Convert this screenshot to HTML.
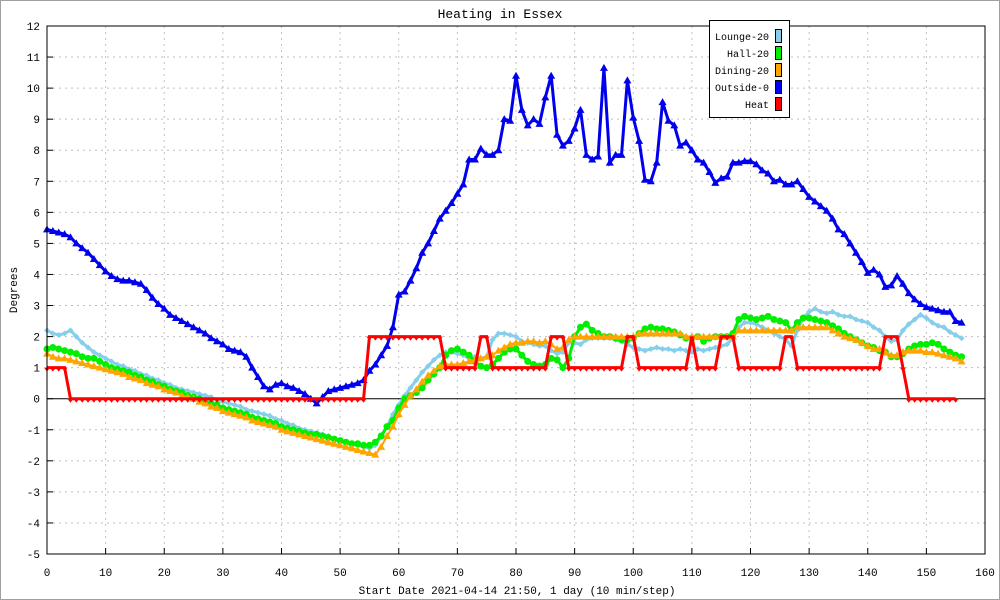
<!DOCTYPE html>
<html><head><meta charset="utf-8"><style>
body{margin:0;background:#fff}
svg{display:block;font-family:"Liberation Mono",monospace;font-size:11px}
</style></head><body>
<svg id="c" width="1000" height="600">
<rect x="0.5" y="0.5" width="999" height="599" fill="#fff" stroke="#a0a0a0"/>
<text x="500" y="18" text-anchor="middle" font-size="13">Heating in Essex</text>
<text x="517" y="594" text-anchor="middle">Start Date 2021-04-14 21:50, 1 day (10 min/step)</text>
<text transform="translate(17,290) rotate(-90)" text-anchor="middle">Degrees</text>
<g id="grid"></g><g id="series"></g>
<rect x="47" y="26" width="938" height="528" fill="none" stroke="#000"/>
<g>
<rect x="709.5" y="20.5" width="80" height="97" fill="#fff" stroke="#000"/>
<g id="legend" font-size="10"></g></g>
</svg>
<script>
const xTicks=[0,10,20,30,40,50,60,70,80,90,100,110,120,130,140,150,160];
const yTicks=[-5,-4,-3,-2,-1,0,1,2,3,4,5,6,7,8,9,10,11,12];
const seriesNames=["Lounge-20","Hall-20","Dining-20","Outside-0","Heat"];
const lounge=[2.2,2.1,2.05,2.1,2.2,2.0,1.8,1.65,1.5,1.4,1.3,1.2,1.1,1.05,0.95,0.9,0.8,0.75,0.65,0.6,0.5,0.45,0.35,0.3,0.25,0.2,0.15,0.1,0.05,-0.05,-0.1,-0.15,-0.2,-0.25,-0.35,-0.4,-0.45,-0.5,-0.55,-0.65,-0.7,-0.8,-0.85,-0.95,-1.0,-1.05,-1.1,-1.15,-1.2,-1.3,-1.35,-1.4,-1.45,-1.5,-1.55,-1.6,-1.5,-1.2,-0.9,-0.5,-0.2,0.1,0.35,0.6,0.85,1.05,1.25,1.4,1.5,1.5,1.45,1.4,1.3,1.35,1.3,1.35,1.9,2.1,2.1,2.05,2.0,1.85,1.8,1.75,1.7,1.7,1.55,1.45,1.5,1.8,1.8,1.75,1.9,1.95,1.95,1.95,1.95,1.9,1.85,1.75,1.65,1.6,1.55,1.6,1.65,1.6,1.6,1.55,1.6,1.55,1.5,1.6,1.55,1.6,1.65,1.7,1.75,1.95,2.3,2.45,2.45,2.4,2.3,2.2,2.1,2.0,1.9,1.7,2.2,2.6,2.8,2.9,2.8,2.75,2.8,2.7,2.65,2.65,2.55,2.5,2.45,2.3,2.2,2.0,1.85,1.9,2.2,2.4,2.55,2.7,2.6,2.45,2.35,2.3,2.15,2.05,1.95];
const hall=[1.6,1.65,1.6,1.55,1.5,1.45,1.35,1.3,1.3,1.2,1.1,1.0,0.95,0.9,0.85,0.75,0.7,0.6,0.55,0.45,0.4,0.3,0.25,0.2,0.1,0.05,0.0,-0.1,-0.15,-0.2,-0.3,-0.35,-0.4,-0.45,-0.5,-0.6,-0.65,-0.7,-0.75,-0.8,-0.9,-0.95,-1.0,-1.05,-1.1,-1.15,-1.15,-1.2,-1.25,-1.3,-1.35,-1.4,-1.45,-1.45,-1.5,-1.5,-1.4,-1.2,-0.9,-0.7,-0.3,0.0,0.1,0.2,0.35,0.6,0.8,1.0,1.4,1.55,1.6,1.5,1.4,1.2,1.05,1.0,1.1,1.3,1.5,1.6,1.6,1.4,1.2,1.1,1.05,1.1,1.3,1.25,1.0,1.3,2.0,2.3,2.4,2.2,2.1,2.0,2.0,1.95,1.9,1.9,1.95,2.1,2.25,2.3,2.25,2.25,2.2,2.15,2.05,1.95,1.95,2.0,1.85,1.95,2.0,2.0,2.0,2.1,2.55,2.65,2.6,2.55,2.6,2.65,2.55,2.5,2.45,2.2,2.45,2.6,2.6,2.55,2.5,2.45,2.35,2.25,2.1,2.0,1.9,1.8,1.7,1.65,1.55,1.5,1.35,1.35,1.45,1.6,1.7,1.75,1.75,1.8,1.75,1.6,1.5,1.4,1.35];
const dining=[1.45,1.35,1.3,1.3,1.25,1.2,1.15,1.1,1.05,1.0,0.95,0.9,0.85,0.8,0.7,0.65,0.6,0.5,0.45,0.4,0.3,0.25,0.2,0.1,0.05,0.0,-0.1,-0.15,-0.25,-0.3,-0.4,-0.45,-0.5,-0.55,-0.6,-0.7,-0.75,-0.8,-0.85,-0.9,-1.0,-1.05,-1.1,-1.15,-1.2,-1.25,-1.3,-1.35,-1.4,-1.45,-1.5,-1.55,-1.6,-1.65,-1.7,-1.75,-1.8,-1.55,-1.2,-0.9,-0.5,-0.2,0.1,0.3,0.55,0.75,0.9,1.05,1.1,1.1,1.1,1.15,1.2,1.25,1.3,1.35,1.4,1.55,1.65,1.75,1.8,1.8,1.85,1.85,1.8,1.85,1.75,1.6,1.65,1.9,2.0,2.0,2.0,2.0,2.0,2.0,2.0,2.0,2.0,2.0,2.0,2.1,2.1,2.1,2.1,2.1,2.1,2.1,2.1,2.0,2.0,2.0,2.0,2.0,2.0,2.0,2.0,2.0,2.2,2.2,2.2,2.2,2.2,2.2,2.2,2.2,2.2,2.2,2.3,2.3,2.3,2.3,2.3,2.3,2.2,2.1,2.0,1.95,1.9,1.8,1.7,1.6,1.6,1.5,1.4,1.4,1.5,1.55,1.55,1.55,1.5,1.5,1.45,1.4,1.35,1.3,1.2];
const outside=[5.45,5.4,5.35,5.3,5.2,5.0,4.85,4.7,4.5,4.3,4.1,3.95,3.85,3.8,3.8,3.75,3.7,3.5,3.25,3.05,2.9,2.7,2.6,2.5,2.4,2.3,2.2,2.1,1.95,1.85,1.75,1.6,1.55,1.5,1.35,1.0,0.7,0.4,0.3,0.45,0.5,0.4,0.35,0.25,0.15,0.0,-0.15,0.05,0.25,0.3,0.35,0.4,0.45,0.5,0.6,0.9,1.1,1.4,1.7,2.3,3.35,3.45,3.8,4.2,4.7,5.0,5.4,5.8,6.05,6.3,6.6,6.9,7.7,7.7,8.05,7.85,7.85,8.0,9.0,8.95,10.4,9.3,8.8,9.0,8.85,9.7,10.4,8.5,8.15,8.3,8.7,9.3,7.85,7.7,7.8,10.65,7.6,7.85,7.85,10.25,9.05,8.3,7.05,7.0,7.6,9.55,8.95,8.8,8.15,8.25,8.0,7.7,7.6,7.3,6.95,7.1,7.15,7.6,7.6,7.65,7.65,7.55,7.35,7.25,7.0,7.05,6.9,6.9,7.0,6.75,6.5,6.35,6.2,6.05,5.8,5.45,5.3,5.0,4.7,4.4,4.05,4.15,4.0,3.6,3.65,3.95,3.7,3.4,3.2,3.05,2.95,2.9,2.85,2.8,2.8,2.5,2.45];
const heat=[1,1,1,1,0,0,0,0,0,0,0,0,0,0,0,0,0,0,0,0,0,0,0,0,0,0,0,0,0,0,0,0,0,0,0,0,0,0,0,0,0,0,0,0,0,0,0,0,0,0,0,0,0,0,0,2,2,2,2,2,2,2,2,2,2,2,2,2,1,1,1,1,1,1,2,2,1,1,1,1,1,1,1,1,1,1,2,2,2,1,1,1,1,1,1,1,1,1,1,2,2,1,1,1,1,1,1,1,1,1,2,1,1,1,1,2,2,2,1,1,1,1,1,1,1,1,2,2,1,1,1,1,1,1,1,1,1,1,1,1,1,1,1,2,2,2,1,0,0,0,0,0,0,0,0,0];
const NS="http://www.w3.org/2000/svg";
const X0=47,X1=985,Y0=554,Y1=26,XMIN=0,XMAX=160,YMIN=-5,YMAX=12;
function sx(v){return X0+(v-XMIN)/(XMAX-XMIN)*(X1-X0);}
function sy(v){return Y0-(v-YMIN)/(YMAX-YMIN)*(Y0-Y1);}
function mk(tag,at,parent){const e=document.createElementNS(NS,tag);for(const k in at)e.setAttribute(k,at[k]);parent.appendChild(e);return e;}
const grid=document.getElementById('grid');
xTicks.forEach(t=>{const x=sx(t);
 if(t>0&&t<160){const l=mk('line',{x1:x,x2:x,y1:Y1,y2:Y0,stroke:'#c0c0c0','stroke-dasharray':'2,4'},grid);
 
 }
 mk('line',{x1:x,x2:x,y1:Y0,y2:Y0-6,stroke:'#000'},grid);
 const tx=mk('text',{x:x,y:576,'text-anchor':'middle'},grid);tx.textContent=t;
 
 });
yTicks.forEach(t=>{const y=sy(t);
 if(t>-5&&t<12){const l=mk('line',{x1:X0,x2:X1,y1:y,y2:y,stroke:t===0?'#000':'#c0c0c0','stroke-dasharray':t===0?'none':'2,4'},grid);
 
 }
 mk('line',{x1:X0,x2:X0+6,y1:y,y2:y,stroke:'#000'},grid);
 const tx=mk('text',{x:40,y:y+4,'text-anchor':'end'},grid);tx.textContent=t;
 
 });
const sg=document.getElementById('series');
function marker(type,x,y,c,g){
 if(type==='tri')return mk('polygon',{points:`${x},${y-4} ${x-4},${y+3} ${x+4},${y+3}`,fill:c},g);
 if(type==='itri')return mk('polygon',{points:`${x-3},${y} ${x+3},${y} ${x},${y+4}`,fill:c},g);
 if(type==='circ')return mk('circle',{cx:x,cy:y,r:3.5,fill:c},g);
 if(type==='dia')return mk('polygon',{points:`${x},${y-3} ${x+3},${y} ${x},${y+3} ${x-3},${y}`,fill:c},g);
}
function draw(data,color,type,name,w){
 const g=mk('g',{},sg);
 
 
 const pts=data.map((v,i)=>sx(i)+','+sy(v)).join(' ');
 mk('polyline',{points:pts,fill:'none',stroke:color,'stroke-width':w},g);
 data.forEach((v,i)=>{const m=marker(type,sx(i),sy(v),color,g);
  
  });
}
draw(lounge,'#87ceeb','dia','lounge',3);
draw(hall,'#00ee00','circ','hall',3);
draw(dining,'#ffa500','tri','dining',2);
draw(outside,'#0000ee','tri','outside',3);
draw(heat,'#ff0000','itri','heat',3);
const lg=document.getElementById('legend');
const lc=['#87ceeb','#00ee00','#ffa500','#0000ee','#ff0000'];
seriesNames.forEach((n,i)=>{const y=36+i*17;
 const t=mk('text',{x:769,y:y+4,'text-anchor':'end'},lg);t.textContent=n;
 
 
 const r=mk('rect',{x:775.5,y:y-6.5,width:6,height:13,fill:lc[i],stroke:'#000'},lg);
 
 });
</script>
</body></html>
